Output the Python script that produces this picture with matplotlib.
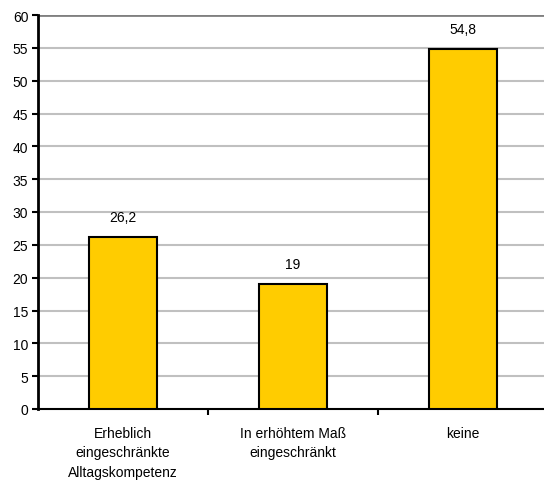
import matplotlib
matplotlib.use('Agg')
import matplotlib.pyplot as plt

plt.rcParams['font.family'] = ['Liberation Sans', 'DejaVu Sans']

# Daten
kategorien = ['Erheblich\neingeschränkte\nAlltagskompetenz',
              'In erhöhtem Maß\neingeschränkt',
              'keine']
werte = [26.2, 19, 54.8]
wert_labels = ['26,2', '19', '54,8']
y_ticks = list(range(0, 61, 5))

fig = plt.figure(figsize=(5.44, 4.81), dpi=100)
# Achsenbereich in Pixeln: links 38, rechts 548, oben 16, unten 410
ax = fig.add_axes([38 / 544, (481 - 410) / 481, 510 / 544, 394 / 481])

x = list(range(len(kategorien)))
bars = ax.bar(x, werte, width=0.4, color='#FFCC00', edgecolor='black',
              linewidth=1.5, zorder=3)

for bar, txt in zip(bars, wert_labels):
    ax.text(bar.get_x() + bar.get_width() / 2, bar.get_height() + 2.0, txt,
            ha='center', va='bottom', fontsize=10, color='black')

ax.set_xlim(-0.5, len(kategorien) - 0.5)
ax.set_ylim(0, 60)
ax.set_yticks(y_ticks)
ax.tick_params(axis='y', direction='out', length=4, width=1.5,
               labelsize=10, pad=3)

# Kategorien mittig, Striche an den Grenzen
ax.set_xticks(x)
ax.set_xticklabels(kategorien, fontsize=10, linespacing=1.5)
ax.tick_params(axis='x', length=0, pad=12)
ax.set_xticks([0.5, 1.5], minor=True)
ax.tick_params(axis='x', which='minor', direction='out', length=4, width=1.5)

# Gitternetz
for y in y_ticks[1:-1]:
    ax.axhline(y, color='#c0c0c0', linewidth=1.5, zorder=1)
ax.axhline(60, color='#808080', linewidth=2, zorder=1)

ax.spines['top'].set_visible(False)
ax.spines['right'].set_visible(False)
ax.spines['left'].set_linewidth(2)
ax.spines['bottom'].set_linewidth(1.5)

fig.savefig('out.png', dpi=100)
